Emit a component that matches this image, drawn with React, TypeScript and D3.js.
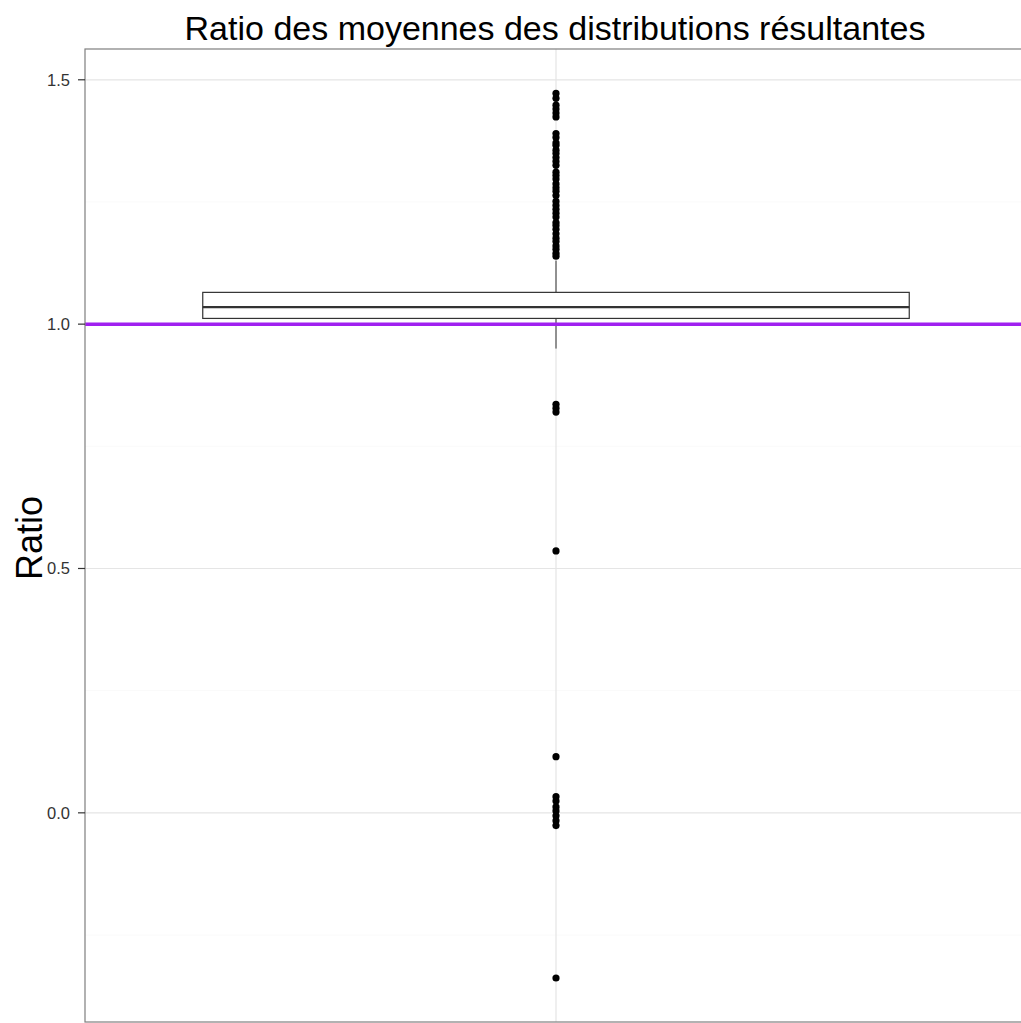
import React from "react";
import * as d3 from "d3";

const categories = ["ratio"];
const yTicks = [0.0, 0.5, 1.0, 1.5];
const yTickLabels = ["0.0", "0.5", "1.0", "1.5"];
const yMinorTicks = [-0.25, 0.25, 0.75, 1.25];
const boxStats = { lowerWhisker: 0.95, q1: 1.0117, median: 1.035, q3: 1.065, upperWhisker: 1.13 };
const outliersHigh = [
  1.472, 1.462, 1.448, 1.44, 1.432, 1.424,
  1.39, 1.382, 1.371, 1.366, 1.356, 1.349, 1.341, 1.333, 1.325,
  1.311, 1.304, 1.297, 1.287, 1.279, 1.272, 1.263,
  1.251, 1.243, 1.235, 1.227, 1.219, 1.208, 1.202, 1.194, 1.185, 1.176, 1.169, 1.16, 1.153, 1.145, 1.139,
];
const outliersLow = [0.836, 0.828, 0.82, 0.536, 0.115, 0.033, 0.024, 0.012, 0.004, -0.006, -0.016, -0.026, -0.338];
const refLine = 1.0;
const yDomain = [-0.428, 1.563];

export default function App() {
  const W = 1021, H = 1023;
  const left = 85, top = 49, bottom = 1022, right = 1027;
  const y = d3.scaleLinear().domain(yDomain).range([bottom, top]);
  const x = d3.scaleLinear().domain([0.4, 1.6]).range([left, right]);
  const cx = x(1);
  const bx0 = x(0.55), bx1 = x(1.45);
  const allOut = [...outliersHigh, ...outliersLow];
  const font = "'Liberation Sans', Arial, sans-serif";
  return (
    <svg width={W} height={H} style={{ position: "fixed", left: 0, top: 0, background: "#fff" }}>
      <rect x={0} y={0} width={W} height={H} fill="#fff" />
      <text x={555} y={40} textAnchor="middle" fontFamily={font} fontSize={34} fill="#000">
        Ratio des moyennes des distributions résultantes
      </text>
      <g>
        {yMinorTicks.map((t) => (
          <line key={"m" + t} x1={left} x2={right} y1={y(t)} y2={y(t)} stroke="#fafafa" strokeWidth={1} />
        ))}
        {yTicks.map((t) => (
          <line key={"g" + t} x1={left} x2={right} y1={y(t)} y2={y(t)} stroke="#e5e5e5" strokeWidth={1.2} />
        ))}
        {categories.map((c, i) => (
          <line key={c} x1={x(i + 1)} x2={x(i + 1)} y1={top} y2={bottom} stroke="#e5e5e5" strokeWidth={1.2} />
        ))}
      </g>
      <line x1={cx} x2={cx} y1={y(boxStats.q3)} y2={y(boxStats.upperWhisker)} stroke="#333" strokeWidth={1} />
      <line x1={cx} x2={cx} y1={y(boxStats.q1)} y2={y(boxStats.lowerWhisker)} stroke="#333" strokeWidth={1} />
      <rect x={bx0} y={y(boxStats.q3)} width={bx1 - bx0} height={y(boxStats.q1) - y(boxStats.q3)} fill="#fff" stroke="#333" strokeWidth={1.2} />
      <line x1={bx0} x2={bx1} y1={y(boxStats.median)} y2={y(boxStats.median)} stroke="#333" strokeWidth={2.2} />
      {allOut.map((v, i) => (
        <circle key={i} cx={cx} cy={y(v)} r={3.6} fill="#000" />
      ))}
      <line x1={left} x2={W} y1={y(refLine)} y2={y(refLine)} stroke="#A020F0" strokeWidth={3.5} />
      <rect x={left} y={top} width={right - left} height={bottom - top} fill="none" stroke="#7f7f7f" strokeWidth={1.2} />
      {yTicks.map((t, i) => (
        <g key={"t" + t}>
          <line x1={left - 7} x2={left} y1={y(t)} y2={y(t)} stroke="#333" strokeWidth={1.2} />
          <text x={70} y={y(t)} dy="0.36em" textAnchor="end" fontFamily={font} fontSize={16.5} fill="#333">
            {yTickLabels[i]}
          </text>
        </g>
      ))}
      <text transform={`translate(42, 538) rotate(-90)`} textAnchor="middle" fontFamily={font} fontSize={36} fill="#000">
        Ratio
      </text>
    </svg>
  );
}
